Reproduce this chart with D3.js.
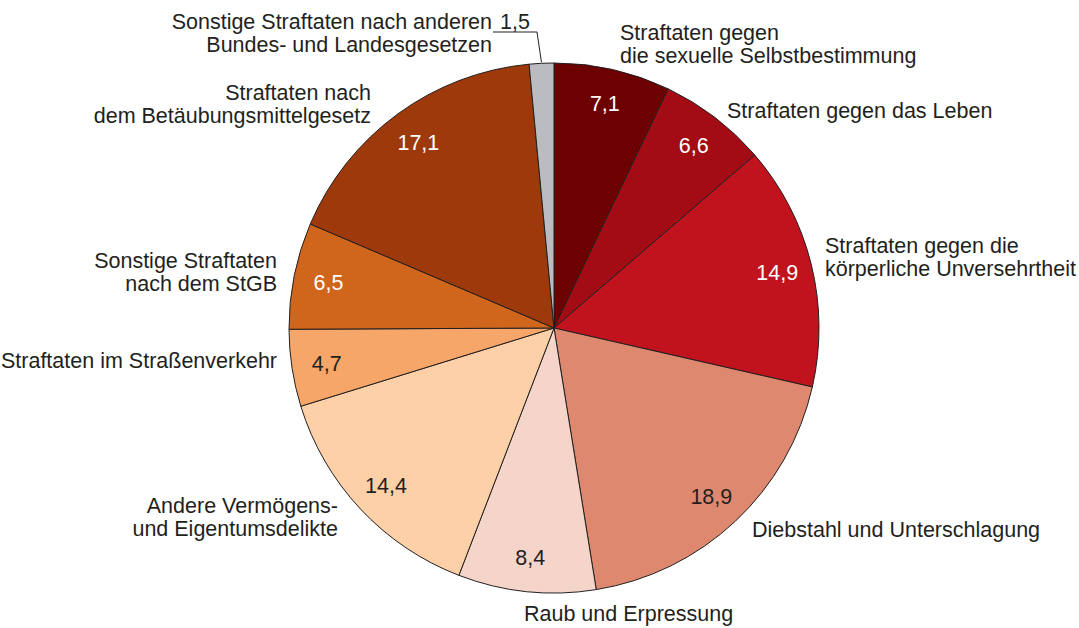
<!DOCTYPE html>
<html>
<head>
<meta charset="utf-8">
<script src="https://cdn.jsdelivr.net/npm/d3@7"></script>
<style>
  body { margin: 0; background: #fff; }
  svg text { font-family: "Liberation Sans", Arial, Helvetica, sans-serif; fill: #231f20; }
</style>
</head>
<body>
<div id="chart"></div>
<script>
// categories, clockwise from 12 o'clock
var categories = [
    "Straftaten gegen die sexuelle Selbstbestimmung",
    "Straftaten gegen das Leben",
    "Straftaten gegen die körperliche Unversehrtheit",
    "Diebstahl und Unterschlagung",
    "Raub und Erpressung",
    "Andere Vermögens- und Eigentumsdelikte",
    "Straftaten im Straßenverkehr",
    "Sonstige Straftaten nach dem StGB",
    "Straftaten nach dem Betäubungsmittelgesetz",
    "Sonstige Straftaten nach anderen Bundes- und Landesgesetzen"
];
var values = [7.1, 6.6, 14.9, 18.9, 8.4, 14.4, 4.7, 6.5, 17.1, 1.5];
var valueLabels = ["7,1", "6,6", "14,9", "18,9", "8,4", "14,4", "4,7", "6,5", "17,1", "1,5"];
// the outside labels, broken into lines as in the print
var labelLines = [
    ["Straftaten gegen", "die sexuelle Selbstbestimmung"],
    ["Straftaten gegen das Leben"],
    ["Straftaten gegen die", "körperliche Unversehrtheit"],
    ["Diebstahl und Unterschlagung"],
    ["Raub und Erpressung"],
    ["Andere Vermögens-", "und Eigentumsdelikte"],
    ["Straftaten im Straßenverkehr"],
    ["Sonstige Straftaten", "nach dem StGB"],
    ["Straftaten nach", "dem Betäubungsmittelgesetz"],
    ["Sonstige Straftaten nach anderen", "Bundes- und Landesgesetzen"]
];
var colors = ["#6d0000", "#a30b15", "#c1131d", "#de896f", "#f5d5c9",
              "#fdd0a7", "#f5a668", "#cf661c", "#9e390b", "#bbbcbf"];
var whiteValue = [true, true, true, false, false, false, false, true, true, false];

var width = 1079, height = 628;
var cx = 554, cy = 328, radius = 265;
var fontSize = 21.5, lineH = 23;

// where each outside label sits (anchor point of first baseline)
var labelPos = [
    {x: 620, y: 40, anchor: "start"},
    {x: 727, y: 118, anchor: "start"},
    {x: 825, y: 253, anchor: "start"},
    {x: 752, y: 537, anchor: "start"},
    {x: 524, y: 621, anchor: "start"},
    {x: 338, y: 513, anchor: "end"},
    {x: 277, y: 368, anchor: "end"},
    {x: 277, y: 268, anchor: "end"},
    {x: 371, y: 100, anchor: "end"},
    {x: 492, y: 29, anchor: "end"}
];

var data = categories.map(function(c, i) {
    return {name: c, value: values[i], label: valueLabels[i], lines: labelLines[i],
            color: colors[i], white: whiteValue[i], pos: labelPos[i]};
});

var svg = d3.select("#chart").append("svg")
    .attr("width", width)
    .attr("height", height);

var pie = d3.pie()
    .value(function(d) { return d.value; })
    .sort(null);

var arc = d3.arc().innerRadius(0).outerRadius(radius);
var labelArc = d3.arc().innerRadius(230).outerRadius(230);

var arcs = pie(data);

var g = svg.append("g")
    .attr("transform", "translate(" + cx + "," + cy + ")");

g.selectAll(".slice")
    .data(arcs)
  .enter().append("path")
    .attr("class", "slice")
    .attr("d", arc)
    .attr("fill", function(d) { return d.data.color; })
    .attr("stroke", "#231f20")
    .attr("stroke-width", 1)
    .attr("stroke-linejoin", "round");

// values inside the slices (the small grey one gets its value outside)
g.selectAll(".val")
    .data(arcs.filter(function(d) { return d.data.value > 2; }))
  .enter().append("text")
    .attr("class", "val")
    .attr("transform", function(d) { return "translate(" + labelArc.centroid(d) + ")"; })
    .attr("text-anchor", "middle")
    .attr("dy", "0.36em")
    .style("font-size", fontSize + "px")
    .style("fill", function(d) { return d.data.white ? "#fff" : "#231f20"; })
    .text(function(d) { return d.data.label; });

// outside category labels
var lbl = svg.selectAll(".lbl")
    .data(data)
  .enter().append("text")
    .attr("class", "lbl")
    .attr("text-anchor", function(d) { return d.pos.anchor; })
    .style("font-size", fontSize + "px");

lbl.selectAll("tspan")
    .data(function(d) { return d.lines.map(function(l) { return {t: l, p: d.pos}; }); })
  .enter().append("tspan")
    .attr("x", function(d) { return d.p.x; })
    .attr("y", function(d, i) { return d.p.y + i * lineH; })
    .text(function(d) { return d.t; });

// the small slice: value next to its label with a leader line to the arc
var small = arcs[arcs.length - 1];
var edge = d3.arc().innerRadius(radius + 1).outerRadius(radius + 1).centroid(small);
svg.append("text")
    .attr("x", 500)
    .attr("y", labelPos[9].y)
    .style("font-size", fontSize + "px")
    .text(small.data.label);

svg.append("polyline")
    .attr("points", [[493, 32], [537, 32], [cx + edge[0], cy + edge[1]]].map(function(p) { return p.join(","); }).join(" "))
    .attr("fill", "none")
    .attr("stroke", "#231f20")
    .attr("stroke-width", 1);
</script>
</body>
</html>
